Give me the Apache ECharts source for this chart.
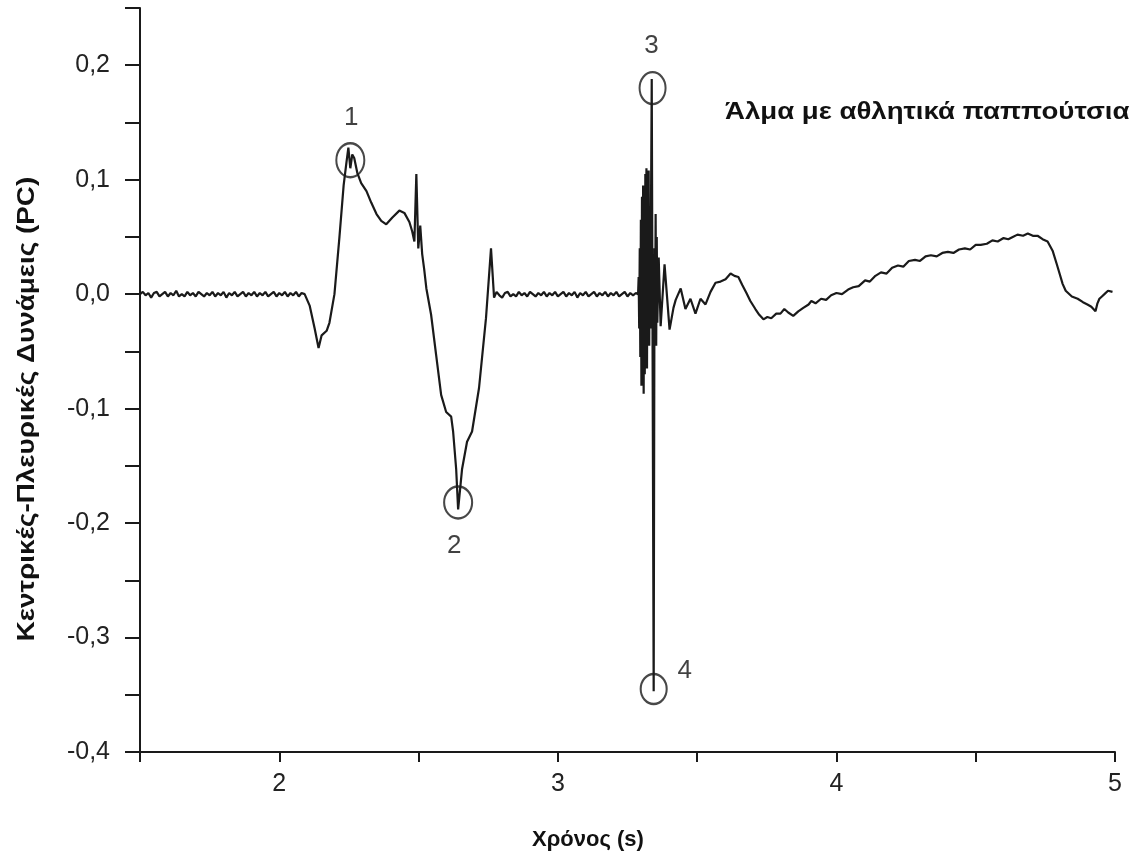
<!DOCTYPE html>
<html>
<head>
<meta charset="utf-8">
<script src="https://cdn.jsdelivr.net/npm/echarts@6/dist/echarts.min.js"></script>
<style>
html,body{margin:0;padding:0;background:#fff;}
#container{width:1141px;height:861px;}
</style>
</head>
<body>
<div id="container"></div>
<script>
// ηρεμία πριν το άλμα
var quietStance = [[1.50,0.000],[1.51,0.002],[1.52,-0.001],[1.53,0.001],[1.54,-0.003],[1.55,0.001],[1.56,0.002],[1.57,-0.002],[1.58,0.000],[1.59,0.002],[1.60,-0.002],[1.61,0.001],[1.62,-0.001],[1.63,0.003],[1.64,-0.002],[1.65,0.000],[1.66,-0.002],[1.67,0.002],[1.68,-0.001],[1.69,0.001],[1.70,-0.002],[1.71,0.002],[1.72,0.000],[1.73,-0.002],[1.74,0.001],[1.75,-0.001],[1.76,0.002],[1.77,-0.002],[1.78,0.001],[1.79,-0.001],[1.80,0.002],[1.81,-0.003],[1.82,0.001],[1.83,-0.001],[1.84,0.002],[1.85,-0.002],[1.86,0.000],[1.87,0.002],[1.88,-0.002],[1.89,0.001],[1.90,-0.001],[1.91,0.002],[1.92,-0.002],[1.93,0.001],[1.94,-0.001],[1.95,0.002],[1.96,-0.002],[1.97,0.000],[1.98,0.002],[1.99,-0.002],[2.00,0.001],[2.01,-0.001],[2.02,0.002],[2.03,-0.002],[2.04,0.001],[2.05,-0.001],[2.06,0.002],[2.07,-0.002],[2.08,0.001]];
// ώθηση
var pushOff = [[2.091,0.000],[2.109,-0.010],[2.127,-0.030],[2.141,-0.047],[2.152,-0.036],[2.170,-0.032],[2.180,-0.025],[2.198,0.000],[2.216,0.050],[2.231,0.095],[2.241,0.115],[2.248,0.128],[2.255,0.110],[2.262,0.122],[2.269,0.119],[2.280,0.106],[2.294,0.097],[2.313,0.090],[2.330,0.080],[2.349,0.070],[2.366,0.064],[2.384,0.061],[2.406,0.067],[2.431,0.073],[2.449,0.071],[2.467,0.063],[2.477,0.055],[2.485,0.046],[2.492,0.105],[2.499,0.040],[2.506,0.060],[2.513,0.035],[2.520,0.022],[2.528,0.005],[2.545,-0.018],[2.563,-0.053],[2.581,-0.088],[2.599,-0.103],[2.617,-0.107],[2.624,-0.120],[2.635,-0.153],[2.642,-0.188],[2.656,-0.153],[2.674,-0.129],[2.692,-0.120],[2.717,-0.082],[2.742,-0.021],[2.760,0.040],[2.771,-0.003]];
// πτήση
var flight = [[2.78,0.002],[2.79,-0.001],[2.80,-0.003],[2.81,0.001],[2.82,0.002],[2.83,-0.002],[2.84,0.000],[2.85,-0.002],[2.86,0.002],[2.87,-0.001],[2.88,0.001],[2.89,-0.002],[2.90,0.002],[2.91,0.000],[2.92,-0.002],[2.93,0.001],[2.94,-0.001],[2.95,0.002],[2.96,-0.002],[2.97,0.001],[2.98,-0.001],[2.99,0.002],[3.00,-0.002],[3.01,0.000],[3.02,0.002],[3.03,-0.002],[3.04,0.001],[3.05,-0.001],[3.06,0.002],[3.07,-0.003],[3.08,0.001],[3.09,-0.001],[3.10,0.002],[3.11,-0.002],[3.12,0.000],[3.13,0.002],[3.14,-0.002],[3.15,0.001],[3.16,-0.001],[3.17,0.002],[3.18,-0.002],[3.19,0.001],[3.20,-0.001],[3.21,0.002],[3.22,-0.002],[3.23,0.000],[3.24,0.002],[3.25,-0.002],[3.26,0.001],[3.27,-0.001],[3.28,0.001]];
// προσγείωση
var landing = [[3.288,0.000],[3.290,0.015],[3.292,-0.030],[3.294,0.040],[3.296,-0.055],[3.298,0.065],[3.300,-0.080],[3.302,0.085],[3.304,-0.060],[3.306,0.095],[3.308,-0.087],[3.310,0.080],[3.312,-0.070],[3.314,0.105],[3.316,-0.050],[3.318,0.110],[3.320,-0.065],[3.322,0.090],[3.324,-0.040],[3.326,0.108],[3.328,-0.045],[3.330,0.070],[3.332,-0.030],[3.334,0.060],[3.337,0.188],[3.344,-0.347],[3.347,0.040],[3.349,-0.030],[3.351,0.070],[3.353,-0.045],[3.355,0.050],[3.357,-0.025],[3.362,0.032],[3.369,-0.028],[3.383,0.026],[3.401,-0.031],[3.415,-0.012],[3.423,-0.005],[3.441,0.005],[3.458,-0.013],[3.476,-0.004],[3.494,-0.017],[3.512,-0.004],[3.530,-0.009],[3.548,0.002],[3.566,0.010],[3.584,0.011],[3.602,0.013],[3.620,0.018],[3.634,0.016],[3.648,0.015],[3.662,0.008],[3.677,0.001],[3.691,-0.006],[3.709,-0.013],[3.723,-0.018],[3.738,-0.022],[3.752,-0.020],[3.766,-0.021],[3.784,-0.017],[3.799,-0.017],[3.813,-0.013],[3.827,-0.016],[3.845,-0.019],[3.863,-0.015]];
// επαναφορά
var recovery = [[3.881,-0.012],[3.900,-0.009],[3.910,-0.006],[3.925,-0.008],[3.945,-0.004],[3.963,-0.005],[3.981,-0.001],[4.000,0.001],[4.020,0.000],[4.042,0.004],[4.060,0.006],[4.080,0.007],[4.103,0.012],[4.120,0.011],[4.140,0.016],[4.160,0.019],[4.180,0.018],[4.200,0.023],[4.221,0.025],[4.240,0.024],[4.260,0.029],[4.282,0.030],[4.300,0.029],[4.320,0.033],[4.339,0.034],[4.360,0.033],[4.380,0.036],[4.400,0.037],[4.420,0.036],[4.440,0.039],[4.461,0.040],[4.480,0.039],[4.500,0.043],[4.518,0.043],[4.540,0.044],[4.560,0.047],[4.579,0.046],[4.600,0.049],[4.617,0.048],[4.633,0.050],[4.650,0.052],[4.670,0.051],[4.687,0.053],[4.705,0.051],[4.722,0.051],[4.740,0.048],[4.758,0.046],[4.776,0.038],[4.790,0.027],[4.801,0.018],[4.812,0.009],[4.823,0.003],[4.845,-0.002],[4.866,-0.004],[4.885,-0.007],[4.901,-0.009],[4.915,-0.011],[4.930,-0.015],[4.937,-0.008],[4.944,-0.004],[4.953,-0.002],[4.962,0.000],[4.975,0.003],[4.991,0.002]];

// σημεία 1-4
var markNames = ['1','2','3','4'];
var markTimes = [2.255, 2.642, 3.340, 3.344];
var markValues = [0.117, -0.182, 0.180, -0.345];

var title = 'Άλμα με αθλητικά παππούτσια';
var xName = 'Χρόνος (s)';
var yName = 'Κεντρικές-Πλευρικές Δυνάμεις (PC)';

var trace = quietStance.concat(pushOff, flight, landing, recovery);

var ringSize = [[28,34],[28,32],[26,32],[26,30]];
var labelOff = [[1,-42],[-4,43],[-1,-42],[31,-18]];
var marks = markNames.map(function(n,i){
	return {
		name:n,
		value:[markTimes[i],markValues[i]],
		symbolSize:ringSize[i],
		label:{offset:labelOff[i]}
	};
});

var fmt = function(v){
	var r = Math.round(v*100);
	if (Math.abs(r)%10!==0) return '';
	return (r/100).toFixed(1).replace('.',',');
};

var dom = document.getElementById("container");
var myChart = echarts.init(dom);
var option = {
	animation:false,
	backgroundColor:'#fff',
	textStyle:{fontFamily:'Liberation Sans, Arial, sans-serif'},
	grid:{left:140,right:26,top:8,bottom:109,outerBoundsMode:'none'},
	xAxis:{
		type:'value',min:1.5,max:5,interval:0.5,
		axisLine:{onZero:false,lineStyle:{color:'#1a1a1a',width:2}},
		axisTick:{length:10,lineStyle:{color:'#1a1a1a',width:2}},
		splitLine:{show:false},
		axisLabel:{margin:20,fontSize:25,color:'#222',formatter:function(v){
			return Math.abs(v-Math.round(v))<1e-6 && v>1.6 ? String(Math.round(v)) : '';
		}}
	},
	yAxis:{
		type:'value',min:-0.4,max:0.25,interval:0.05,
		axisLine:{show:true,lineStyle:{color:'#1a1a1a',width:2}},
		axisTick:{show:true,length:15,lineStyle:{color:'#1a1a1a',width:2}},
		splitLine:{show:false},
		axisLabel:{margin:30,fontSize:25,color:'#222',formatter:fmt}
	},
	graphic:[
		{type:'text',x:27,y:409,rotation:Math.PI/2,scaleX:1.16,style:{text:yName,font:'bold 24px "Liberation Sans", Arial, sans-serif',fill:'#111',textAlign:'center',textVerticalAlign:'middle'}},
		{type:'text',x:588,y:840,style:{text:xName,font:'bold 22px "Liberation Sans", Arial, sans-serif',fill:'#111',textAlign:'center',textVerticalAlign:'middle'}},
		{type:'text',x:725,y:112,scaleX:1.15,style:{text:title,font:'bold 24px "Liberation Sans", Arial, sans-serif',fill:'#111',textAlign:'left',textVerticalAlign:'middle'}}
	],
	series:[
		{
			type:'line',data:trace,showSymbol:false,
			lineStyle:{color:'#1a1a1a',width:2.2},
			z:2
		},
		{
			type:'scatter',data:marks,symbol:'circle',
			itemStyle:{color:'rgba(0,0,0,0)',borderColor:'#1a1a1a',borderWidth:2.2},
			label:{show:true,position:'inside',formatter:'{b}',fontSize:26,color:'#111'},
			z:3
		}
	]
};
if (option && typeof option === "object") {
	myChart.setOption(option, true);
}
</script>
</body>
</html>
